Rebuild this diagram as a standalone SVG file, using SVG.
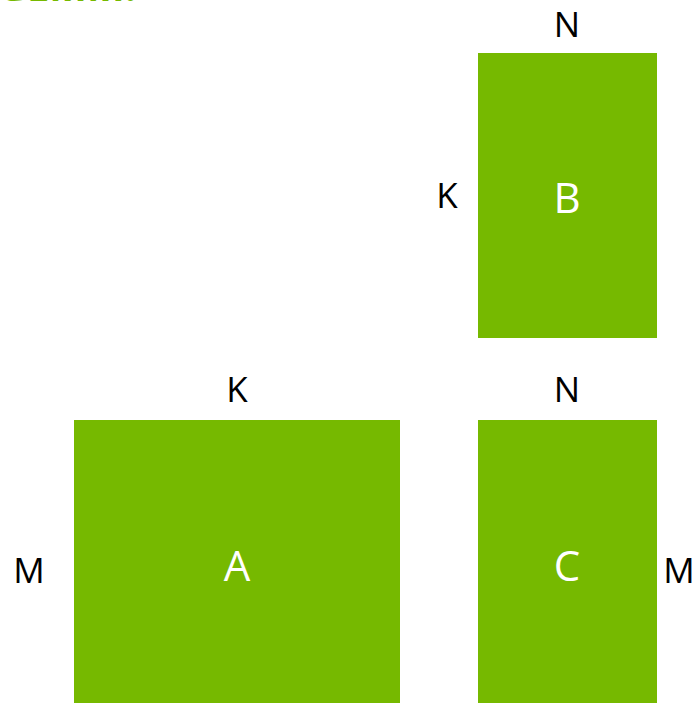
<svg xmlns="http://www.w3.org/2000/svg" width="692" height="703" viewBox="0 0 692 703">
  <style>
    .mat { fill: #76b900; }
    .dim { font-family: "Open Sans", "DejaVu Sans", sans-serif; font-size: 35px; fill: #000; text-anchor: middle; }
    .name { font-family: "Open Sans", "DejaVu Sans", sans-serif; font-size: 42px; fill: #fff; text-anchor: middle; }
    .title { font-family: "Open Sans", "DejaVu Sans", sans-serif; font-size: 40px; font-weight: bold; fill: #76b900; }
  </style>
  <rect width="692" height="703" fill="#fff"/>
  <!-- heading, mostly above the top edge -->
  <text class="title" x="-2" y="1">GEMM:</text>

  <g id="matrix-B">
    <rect class="mat" x="478" y="53" width="179" height="285"/>
    <text class="name" x="567" y="213">B</text>
    <text class="dim" x="567" y="37">N</text>
    <text class="dim" x="447" y="208">K</text>
  </g>

  <g id="matrix-A">
    <rect class="mat" x="74" y="420" width="326" height="283"/>
    <text class="name" x="237" y="581">A</text>
    <text class="dim" x="237" y="402">K</text>
    <text class="dim" x="29" y="583">M</text>
  </g>

  <g id="matrix-C">
    <rect class="mat" x="478" y="420" width="179" height="283"/>
    <text class="name" x="567" y="581">C</text>
    <text class="dim" x="567" y="402">N</text>
    <text class="dim" x="679" y="583">M</text>
  </g>

  <g id="connectors"></g>
</svg>
